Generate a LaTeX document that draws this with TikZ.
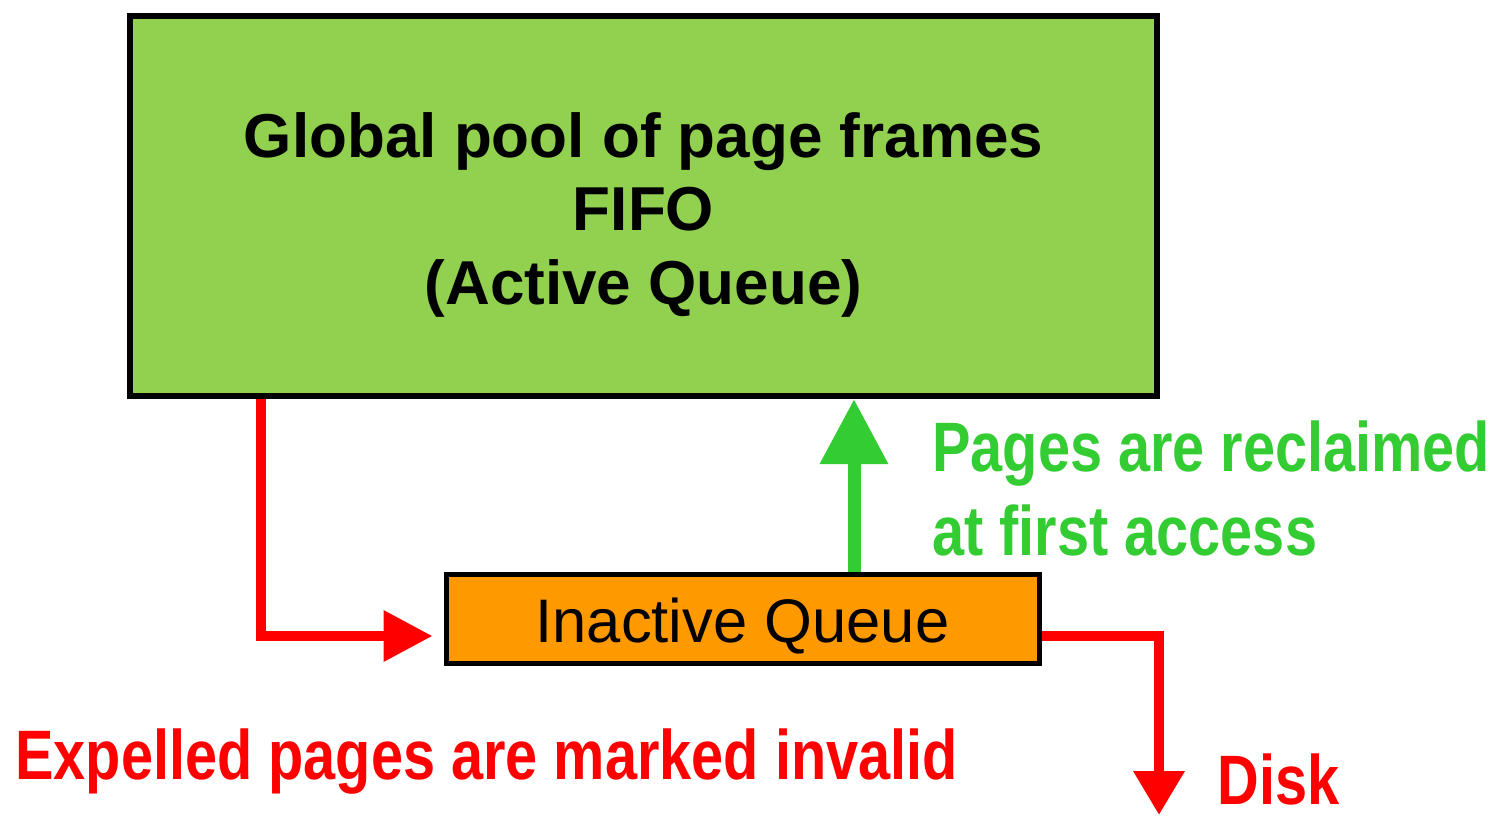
\documentclass[tikz,border=0pt]{standalone}
\usepackage{fontspec}
\setmainfont{Liberation Sans}
\newfontfamily\narrowsans[FakeStretch=0.824]{Liberation Sans}
\usetikzlibrary{arrows.meta}
\definecolor{poolgreen}{HTML}{92D050}
\definecolor{queueorange}{HTML}{FF9900}
\definecolor{alertred}{HTML}{FF0000}
\definecolor{reclaimgreen}{HTML}{33CC33}
\tikzset{
  poolbox/.style={draw=black, line width=3pt, fill=poolgreen, minimum width=513.5pt,
    minimum height=190pt, inner sep=0pt},
  pooltext/.style={anchor=base, inner sep=0pt,
    font=\fontsize{31}{37}\selectfont\bfseries},
  queuebox/.style={draw=black, line width=2.5pt, fill=queueorange, minimum width=296.5pt,
    minimum height=44.5pt, inner sep=0pt, text height=23.5pt, text depth=0pt,
    font=\fontsize{30.75}{37}\selectfont},
  redflow/.style={draw=alertred, line width=5pt,
    -{Triangle[length=24.5pt, width=24.5pt]}},
  greenflow/.style={draw=reclaimgreen, line width=6.5pt,
    -{Triangle[length=32.5pt, width=32.5pt]}},
  redlabel/.style={text=alertred, anchor=base west, inner sep=0pt,
    font=\fontsize{35}{40}\narrowsans\bfseries},
  greenlabel/.style={text=reclaimgreen, anchor=base west, inner sep=0pt,
    font=\fontsize{35}{40}\narrowsans\bfseries},
}
\begin{document}
\begin{tikzpicture}[x=0.5pt, y=-0.5pt]
  \useasboundingbox (0,0) rectangle (1494,816);

  % the active queue and its title
  \node[poolbox] (pool) at (643.5,206) {};
  \node[pooltext] (pooltitle) at (643.5,157) {Global pool of page frames};
  \node[pooltext] (poolfifo) at (643.5,230.5) {FIFO};
  \node[pooltext] (poolactive) at (643.5,304) {(Active Queue)};

  % the inactive queue
  \node[queuebox] (inactive) at (742.5,618.5) {Inactive Queue};

  % expelled pages move from the active queue to the inactive queue
  \draw[redflow, shorten >=5.5pt]
    ([xshift=67pt]pool.south west) |- ([yshift=-8.75pt]inactive.west);

  % reclaimed pages return to the active queue
  \draw[greenflow]
    ([xshift=55.75pt]inactive.north) -- ([xshift=55.75pt]inactive.north |- pool.south);

  % pages leaving the inactive queue go to disk
  \coordinate (disk) at (1159,815);
  \draw[redflow, -{Triangle[length=22pt, width=24.5pt]}]
    ([yshift=-8.75pt]inactive.east) -| (disk);

  % labels
  \node[greenlabel] (reclaim1) at (932,471) {Pages are reclaimed};
  \node[greenlabel] (reclaim2) at (932,555) {at first access};
  \node[redlabel] (expelled) at (15,779) {Expelled pages are marked invalid};
  \node[redlabel] (disklabel) at (1217,804) {Disk};
\end{tikzpicture}
\end{document}
